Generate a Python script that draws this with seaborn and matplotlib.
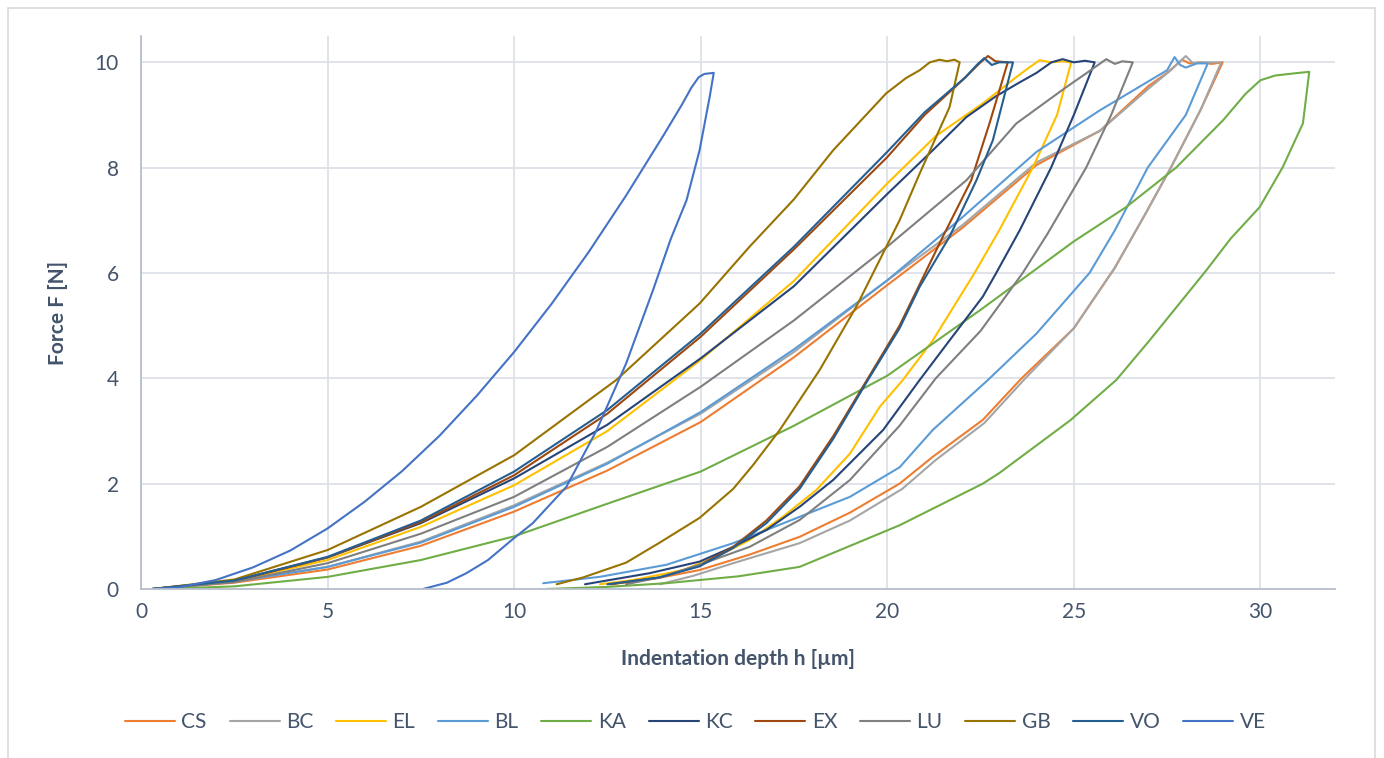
import numpy as np
import pandas as pd
import matplotlib.pyplot as plt
import seaborn as sns
from matplotlib.patches import Rectangle

# series y colores (orden de la leyenda)
series = ["CS", "BC", "EL", "BL", "KA", "KC", "EX", "LU", "GB", "VO", "VE"]
colores = ["#ED7D31", "#A5A5A5", "#FFC000", "#5B9BD5", "#70AD47", "#264478",
           "#9E480E", "#7F7F7F", "#997300", "#255E91", "#4472C4"]

# curvas carga / descarga: profundidad h [um], fuerza F [N]
h_cs = [0.3, 2.5, 5, 7.5, 10, 12.5, 15, 17.5, 20, 22, 24, 25.7, 27, 27.5, 27.9, 28.1, 28.4, 28.7, 28.99,
        28.4, 27.6, 26.9, 26.1, 25.0, 23.6, 22.56, 21.22, 20.33, 19.0, 17.65, 16.3, 14.97, 13.8, 12.56]
f_cs = [0, 0.12, 0.37, 0.82, 1.47, 2.25, 3.17, 4.4, 5.77, 6.85, 8.05, 8.7, 9.55, 9.8, 10.05, 9.98, 10.0, 9.97, 10.0,
        9.1, 8.0, 7.1, 6.1, 4.95, 4.0, 3.21, 2.51, 2.0, 1.45, 0.99, 0.65, 0.36, 0.2, 0.09]

h_bc = [0.3, 2.5, 5, 7.5, 10, 12.5, 15, 17.5, 20, 22, 24, 25.7, 27, 27.6, 28.0, 28.2, 28.5, 28.95,
        28.4, 27.6, 26.9, 26.1, 25.0, 23.7, 22.6, 21.3, 20.4, 19.0, 17.65, 15.87, 14.8, 13.9]
f_bc = [0, 0.14, 0.42, 0.9, 1.59, 2.4, 3.33, 4.5, 5.86, 6.9, 8.1, 8.7, 9.5, 9.85, 10.12, 9.98, 10.0, 10.0,
        9.1, 8.0, 7.1, 6.1, 4.95, 4.0, 3.15, 2.45, 1.9, 1.3, 0.87, 0.49, 0.25, 0.09]

h_el = [0.3, 2.5, 5, 7.5, 10, 12.5, 15, 17.5, 20, 21.3, 22.56, 23.01, 23.46, 23.8, 24.08, 24.4, 24.7, 24.93,
        24.55, 23.9, 23.0, 22.34, 21.22, 20.42, 19.8, 19.0, 18.1, 17.2, 16.31, 15.42, 14.53, 13.19, 12.3]
f_el = [0, 0.15, 0.55, 1.18, 1.97, 3.0, 4.35, 5.85, 7.7, 8.6, 9.22, 9.47, 9.72, 9.9, 10.04, 10.0, 10.02, 10.0,
        9.0, 8.0, 6.81, 6.0, 4.72, 3.97, 3.46, 2.57, 1.88, 1.37, 0.93, 0.61, 0.36, 0.17, 0.09]

h_bl = [0.3, 2.5, 5, 7.5, 10, 12.5, 15, 17.5, 20, 22, 24, 25.7, 26.6, 27.5, 27.7, 27.85, 28.0, 28.3, 28.59,
        28.0, 26.98, 26.1, 25.42, 24.0, 22.7, 21.22, 20.33, 19.0, 17.65, 15.87, 14.08, 12.29, 10.78]
f_bl = [0, 0.14, 0.42, 0.88, 1.56, 2.38, 3.36, 4.55, 5.86, 7.05, 8.3, 9.09, 9.47, 9.85, 10.1, 9.95, 9.9, 9.98, 9.98,
        9.0, 8.0, 6.81, 6.0, 4.85, 3.97, 3.02, 2.31, 1.75, 1.37, 0.87, 0.46, 0.23, 0.11]

h_ka = [0.5, 2.5, 5, 7.5, 10, 12.5, 15, 17.5, 20, 22.5, 25, 26.4, 27.74, 29.0, 29.6, 30.0, 30.4, 30.9, 31.31,
        31.14, 30.6, 29.98, 29.2, 28.55, 27.03, 26.14, 24.9, 23.0, 22.56, 20.33, 17.65, 16.0, 14.08, 12.5, 10.87]
f_ka = [0, 0.05, 0.23, 0.55, 1.0, 1.62, 2.23, 3.1, 4.05, 5.3, 6.6, 7.25, 8.0, 8.9, 9.4, 9.66, 9.75, 9.79, 9.82,
        8.84, 8.01, 7.25, 6.65, 6.05, 4.72, 3.97, 3.2, 2.2, 2.0, 1.21, 0.42, 0.24, 0.11, 0.04, 0]

h_kc = [0.3, 2.5, 5, 7.5, 10, 12.5, 15, 17.5, 20, 21.22, 22.12, 22.9, 23.5, 24.0, 24.4, 24.7, 25.0, 25.3, 25.56,
        25.0, 24.39, 23.55, 22.92, 22.56, 21.67, 20.87, 19.89, 18.55, 17.65, 16.76, 15.87, 14.97, 13.63, 11.9]
f_kc = [0, 0.16, 0.6, 1.25, 2.1, 3.12, 4.38, 5.75, 7.5, 8.33, 8.96, 9.35, 9.6, 9.8, 10.0, 10.06, 10.0, 10.03, 10.0,
        9.0, 8.0, 6.81, 6.0, 5.55, 4.72, 3.97, 3.02, 2.07, 1.56, 1.12, 0.8, 0.52, 0.3, 0.09]

h_ex = [0.3, 2.5, 5, 7.5, 10, 12.5, 15, 17.5, 20, 21, 22, 22.5, 22.7, 22.9, 23.23,
        22.74, 22.25, 21.49, 20.33, 19.44, 18.55, 17.65, 16.76, 15.87, 14.97, 13.9, 12.6]
f_ex = [0, 0.15, 0.6, 1.27, 2.16, 3.33, 4.79, 6.45, 8.2, 9.0, 9.65, 10.0, 10.12, 10.02, 10.0,
        8.84, 7.76, 6.69, 5.0, 3.95, 2.9, 1.95, 1.3, 0.8, 0.45, 0.22, 0.09]

h_lu = [0.3, 2.5, 5, 7.5, 10, 12.5, 15, 17.5, 20, 22.12, 23.46, 24.8, 25.33, 25.87, 26.1, 26.3, 26.58,
        26.0, 25.33, 24.3, 23.63, 22.5, 21.3, 20.33, 19.0, 17.65, 16.31, 14.97, 13.9, 13.0]
f_lu = [0, 0.13, 0.49, 1.05, 1.75, 2.7, 3.84, 5.1, 6.5, 7.76, 8.84, 9.53, 9.79, 10.06, 9.97, 10.02, 10.0,
        9.0, 8.0, 6.75, 6.0, 4.9, 4.0, 3.1, 2.07, 1.31, 0.8, 0.46, 0.22, 0.09]

h_gb = [0.3, 2.5, 5, 7.5, 10, 12.74, 14.97, 16.31, 17.5, 18.55, 19.97, 20.5, 20.87, 21.14, 21.4, 21.6, 21.8, 21.94,
        21.67, 20.87, 20.33, 19.17, 18.19, 17.12, 16.4, 15.87, 14.97, 13.9, 13.0, 11.85, 11.14]
f_gb = [0, 0.18, 0.74, 1.56, 2.54, 3.97, 5.42, 6.5, 7.4, 8.33, 9.41, 9.7, 9.85, 10.0, 10.05, 10.02, 10.05, 10.0,
        9.15, 7.89, 7.0, 5.36, 4.16, 3.02, 2.35, 1.9, 1.35, 0.88, 0.5, 0.22, 0.09]

h_vo = [0.3, 2.5, 5, 7.5, 10, 12.5, 15, 17.5, 20, 21.0, 22.1, 22.4, 22.6, 22.8, 23.0, 23.37,
        22.83, 22.39, 21.67, 20.87, 20.33, 19.44, 18.55, 17.65, 16.76, 15.87, 14.97, 13.9, 12.5]
f_vo = [0, 0.16, 0.61, 1.3, 2.23, 3.4, 4.85, 6.5, 8.3, 9.05, 9.72, 9.95, 10.08, 9.95, 10.0, 10.0,
        8.52, 7.76, 6.69, 5.74, 4.95, 3.92, 2.85, 1.9, 1.25, 0.78, 0.43, 0.22, 0.09]

h_ve = [0.3, 1, 2, 3, 4, 5, 6, 7, 8, 9, 10, 11, 12, 13, 14, 14.5, 14.75, 14.95, 15.1, 15.35,
        15.24, 14.97, 14.62, 14.2, 13.72, 13.0, 12.2, 11.4, 10.5, 9.97, 9.3, 8.72, 8.2, 7.56]
f_ve = [0, 0.03, 0.17, 0.41, 0.73, 1.15, 1.66, 2.24, 2.91, 3.67, 4.5, 5.41, 6.4, 7.47, 8.61, 9.2, 9.52, 9.72, 9.78, 9.8,
        9.34, 8.33, 7.38, 6.65, 5.67, 4.28, 3.0, 1.94, 1.25, 0.95, 0.55, 0.3, 0.12, 0]

curvas = {"CS": (h_cs, f_cs), "BC": (h_bc, f_bc), "EL": (h_el, f_el), "BL": (h_bl, f_bl),
          "KA": (h_ka, f_ka), "KC": (h_kc, f_kc), "EX": (h_ex, f_ex), "LU": (h_lu, f_lu),
          "GB": (h_gb, f_gb), "VO": (h_vo, f_vo), "VE": (h_ve, f_ve)}

df = pd.concat([pd.DataFrame({"serie": s, "h": curvas[s][0], "F": curvas[s][1]}) for s in series],
               ignore_index=True)

sns.set_theme(style="whitegrid")
plt.rcParams["font.family"] = ["Lato", "DejaVu Sans"]
texto = "#44546A"

fig = plt.figure(figsize=(13.84, 7.58), dpi=100)
ax = fig.add_axes([141 / 1384, 169 / 758, 1194 / 1384, 553 / 758])

sns.lineplot(data=df, x="h", y="F", hue="serie", hue_order=series, palette=colores,
             sort=False, estimator=None, linewidth=1.5, ax=ax)

ax.set_xlim(0, 32)
ax.set_ylim(0, 10.5)
ax.set_xticks(range(0, 31, 5))
ax.set_yticks(range(0, 11, 2))
ax.grid(True, color="#dde1e8", linewidth=1.3)
ax.set_axisbelow(True)
for lado in ["top", "right"]:
    ax.spines[lado].set_visible(False)
for lado in ["left", "bottom"]:
    ax.spines[lado].set_color("#b7bfcc")
    ax.spines[lado].set_linewidth(1.3)
ax.tick_params(axis="both", length=0, labelsize=15, labelcolor=texto)
ax.tick_params(axis="y", pad=16)
ax.tick_params(axis="x", pad=9)
ax.set_xlabel("Indentation depth h [µm]", fontsize=15, fontweight="bold", color=texto, labelpad=20)
ax.set_ylabel("Force F [N]", fontsize=15, fontweight="bold", color=texto, labelpad=19)

handles, labels = ax.get_legend_handles_labels()
ax.get_legend().remove()
fig.legend(handles, labels, loc="center", bbox_to_anchor=(0.5025, 1 - 722 / 758), ncol=11,
           frameon=False, fontsize=15, handlelength=2.4, handletextpad=0.3, columnspacing=1.1,
           labelcolor=texto)

fig.patches.append(Rectangle((8 / 1384, -0.01), 1367 / 1384, 1.01 - 8 / 758, transform=fig.transFigure,
                             fill=False, edgecolor="#d9d9d9", linewidth=1.2))

fig.savefig("out.png", dpi=100)
